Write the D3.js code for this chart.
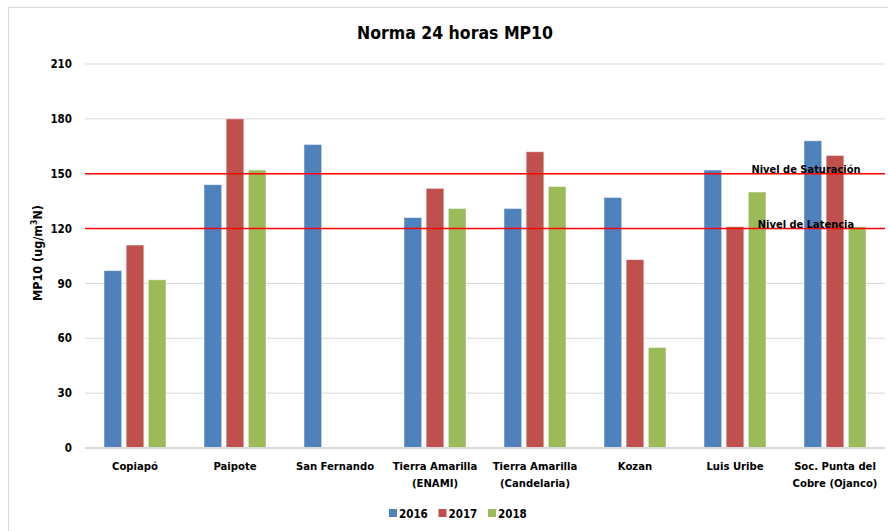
<!DOCTYPE html>
<html>
<head>
<meta charset="utf-8">
<script src="https://cdn.jsdelivr.net/npm/d3@7"></script>
<style>
  body { margin: 0; background: #fff; }
  svg text { font-family: "Liberation Sans Narrow", "DejaVu Sans Condensed", sans-serif; font-weight: bold; fill: #000; }
</style>
</head>
<body>
<div id="chart"></div>
<script>
var categories = ["Copiapó", "Paipote", "San Fernando", "Tierra Amarilla\n(ENAMI)",
                  "Tierra Amarilla\n(Candelaria)", "Kozan", "Luis Uribe", "Soc. Punta del\nCobre (Ojanco)"];
var years = ["2016", "2017", "2018"];
var v2016 = [97, 144, 166, 126, 131, 137, 152, 168];
var v2017 = [111, 180, null, 142, 162, 103, 121, 160];
var v2018 = [92, 152, null, 131, 143, 55, 140, 121];
var yTicks = [0, 30, 60, 90, 120, 150, 180, 210];
var limitValues = [150, 120];
var limitLabels = ["Nivel de Saturación", "Nivel de Latencia"];

var colors = ["#4F81BD", "#C0504D", "#9BBB59"];
var series = [v2016, v2017, v2018];

var w = 888, h = 531;
var svg = d3.select("#chart").append("svg")
    .attr("width", w)
    .attr("height", h);

// chart frame
svg.append("rect")
    .attr("x", 8.5).attr("y", 7.5)
    .attr("width", w + 10).attr("height", h + 10)
    .attr("fill", "none")
    .attr("stroke", "#d9d9d9");

var x0 = d3.scaleBand().domain(categories).range([85, 885]);
var x1 = d3.scaleBand().domain(years).range([19, 81]).paddingInner(0.2);
var y = d3.scaleLinear().domain([0, 210]).range([448, 64]);

// gridlines
svg.selectAll("line.grid")
    .data(yTicks.slice(1))
    .enter()
    .append("line")
    .attr("class", "grid")
    .attr("x1", 85).attr("x2", 885)
    .attr("y1", function(d){ return y(d); })
    .attr("y2", function(d){ return y(d); })
    .attr("stroke", "#d9d9d9")
    .attr("stroke-width", 1);

// y axis labels
var yAxis = d3.axisLeft(y).tickValues(yTicks).tickSize(0).tickPadding(13);
var ya = svg.append("g").attr("transform", "translate(85,0)").call(yAxis);
ya.select(".domain").remove();
ya.selectAll("text").attr("font-size", 11.5).style("font-family", null);

// bars
var groups = svg.selectAll("g.cat")
    .data(categories)
    .enter()
    .append("g")
    .attr("class", "cat")
    .attr("transform", function(d){ return "translate(" + x0(d) + ",0)"; });

groups.selectAll("rect")
    .data(function(d, i){
        return years.map(function(yr, s){ return { year: yr, value: series[s][i], s: s }; })
            .filter(function(o){ return o.value != null; });
    })
    .enter()
    .append("rect")
    .attr("x", function(d){ return x1(d.year); })
    .attr("y", function(d){ return y(d.value); })
    .attr("width", x1.bandwidth())
    .attr("height", function(d){ return y(0) - y(d.value); })
    .attr("fill", function(d){ return colors[d.s]; })
    .attr("stroke", "#fff")
    .attr("stroke-opacity", 0.6)
    .attr("stroke-width", 0.8);

// baseline
svg.append("line")
    .attr("x1", 85).attr("x2", 885)
    .attr("y1", y(0)).attr("y2", y(0))
    .attr("stroke", "#d9d9d9")
    .attr("stroke-width", 2);

// limit lines
svg.selectAll("line.limit")
    .data(limitValues)
    .enter()
    .append("line")
    .attr("class", "limit")
    .attr("x1", 85).attr("x2", 885)
    .attr("y1", function(d){ return y(d); })
    .attr("y2", function(d){ return y(d); })
    .attr("stroke", "#FF0000")
    .attr("stroke-width", 1.5);

svg.selectAll("text.limit")
    .data(limitValues)
    .enter()
    .append("text")
    .attr("class", "limit")
    .attr("x", 806)
    .attr("y", function(d){ return y(d) - 1; })
    .attr("text-anchor", "middle")
    .attr("font-size", 11)
    .text(function(d, i){ return limitLabels[i]; });

// x labels
var xl = svg.selectAll("text.xl")
    .data(categories)
    .enter()
    .append("text")
    .attr("class", "xl")
    .attr("text-anchor", "middle")
    .attr("font-size", 11.2)
    .attr("x", function(d){ return x0(d) + x0.bandwidth() / 2; })
    .attr("y", 470);
xl.selectAll("tspan")
    .data(function(d){ return d.split("\n"); })
    .enter()
    .append("tspan")
    .attr("x", function(){ return this.parentNode.getAttribute("x"); })
    .attr("dy", function(d, i){ return i ? 17 : 0; })
    .text(function(d){ return d; });

// y title
var yt = svg.append("text")
    .attr("transform", "translate(42,253) rotate(-90)")
    .attr("text-anchor", "middle")
    .attr("font-size", 12.5);
yt.append("tspan").text("MP10 (ug/m");
yt.append("tspan").attr("font-size", 8.5).attr("dy", -5).text("3");
yt.append("tspan").attr("dy", 5).text("N)");

// title
svg.append("text")
    .attr("x", 455).attr("y", 39)
    .attr("text-anchor", "middle")
    .attr("font-size", 17.5)
    .text("Norma 24 horas MP10");

// legend
var leg = svg.selectAll("g.leg")
    .data(years)
    .enter()
    .append("g")
    .attr("class", "leg")
    .attr("transform", function(d, i){ return "translate(" + (389 + i * 49.5) + ",509)"; });
leg.append("rect")
    .attr("width", 8).attr("height", 8)
    .attr("fill", function(d, i){ return colors[i]; });
leg.append("text")
    .attr("x", 10).attr("y", 8.5)
    .attr("font-size", 11.5)
    .text(function(d){ return d; });
</script>
</body>
</html>
